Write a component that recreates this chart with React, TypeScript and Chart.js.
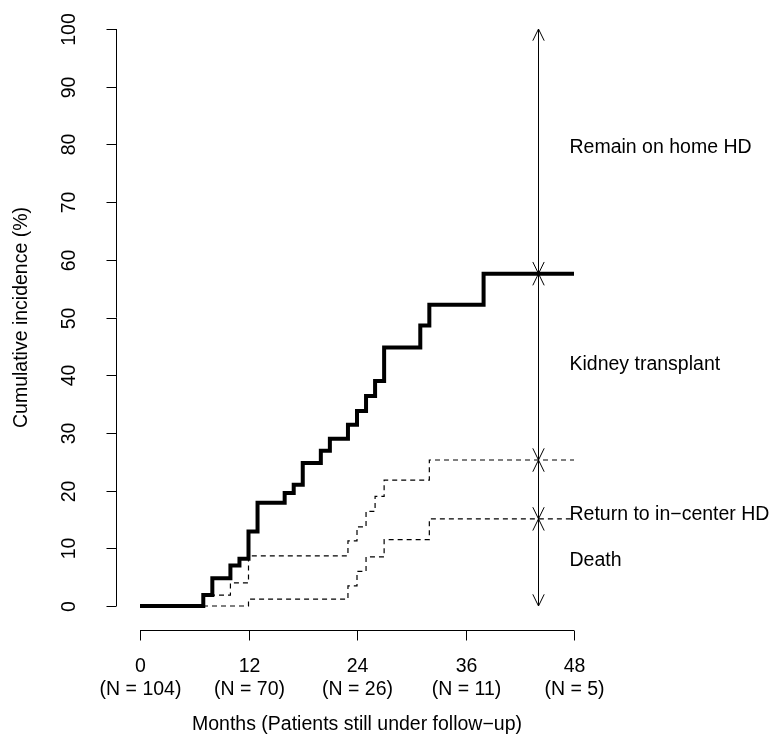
import React, { useEffect, useRef } from "react";
import { Chart, registerables } from "chart.js";

Chart.register(...registerables);

// Cumulative incidence step data (months, %)
const transplantTimes = [0, 7, 8, 10, 11, 12, 13, 16, 17, 18, 20, 21, 23, 24, 25, 26, 27, 31, 32, 38, 48];
const transplantValues = [0, 1.9, 4.8, 7.0, 8.2, 12.9, 17.9, 19.6, 21.0, 24.8, 26.9, 29.0, 31.4, 33.8, 36.4, 39.0, 44.8, 48.6, 52.2, 57.6, 57.6];
const returnTimes = [0, 7, 10, 12, 23, 24, 25, 26, 27, 32, 48];
const returnValues = [0, 1.9, 4.0, 8.7, 11.3, 13.7, 16.4, 19.0, 21.8, 25.3, 25.3];
const deathTimes = [0, 12, 23, 24, 25, 27, 32, 48];
const deathValues = [0, 1.2, 3.5, 6.0, 8.5, 11.5, 15.1, 15.1];

// Axis ticks
const monthTicks = [0, 12, 24, 36, 48];
const patientsAtRisk = [104, 70, 26, 11, 5];
const percentTicks = [0, 10, 20, 30, 40, 50, 60, 70, 80, 90, 100];

// Annotation arrows and labels
const arrowMonth = 44;
const arrowBounds = [100, 57.6, 25.3, 15.1, 0];
const outcomeLabels = ["Remain on home HD", "Kidney transplant", "Return to in\u2212center HD", "Death"];
const outcomeLabelY = [79.5, 41.8, 15.8, 7.8];
const outcomeLabelMonth = 47.5;

const xTitle = "Months (Patients still under follow\u2212up)";
const yTitle = "Cumulative incidence (%)";

const FONT = '19.5px "Liberation Sans", Arial, Helvetica, sans-serif';

function toPoints(ts: number[], vs: number[]) {
  return ts.map((t, i) => ({ x: t, y: vs[i] }));
}

function drawArrowHead(ctx: CanvasRenderingContext2D, x: number, y: number, dir: number) {
  // dir = -1 pointing up, +1 pointing down; tip at (x,y)
  const len = 13;
  const ang = (26 * Math.PI) / 180;
  const dx = len * Math.sin(ang);
  const dy = len * Math.cos(ang);
  ctx.beginPath();
  ctx.moveTo(x - dx, y - dir * dy);
  ctx.lineTo(x, y);
  ctx.lineTo(x + dx, y - dir * dy);
  ctx.stroke();
}

const decorPlugin = {
  id: "decor",
  afterDatasetsDraw(chart: any) {
    const ctx: CanvasRenderingContext2D = chart.ctx;
    const xs = chart.scales.x;
    const ys = chart.scales.y;
    ctx.save();
    ctx.strokeStyle = "#000";
    ctx.fillStyle = "#000";
    ctx.lineWidth = 1;
    ctx.setLineDash([]);
    ctx.font = FONT;

    // X axis
    const axisY = ys.getPixelForValue(0) + 24.5;
    const x0 = xs.getPixelForValue(monthTicks[0]);
    const x1 = xs.getPixelForValue(monthTicks[monthTicks.length - 1]);
    ctx.beginPath();
    ctx.moveTo(x0, axisY);
    ctx.lineTo(x1, axisY);
    ctx.stroke();
    ctx.textAlign = "center";
    ctx.textBaseline = "middle";
    monthTicks.forEach((m, i) => {
      const px = Math.round(xs.getPixelForValue(m)) + 0.5;
      ctx.beginPath();
      ctx.moveTo(px, axisY);
      ctx.lineTo(px, axisY + 10);
      ctx.stroke();
      ctx.fillText(String(m), px, axisY + 36);
      ctx.fillText("(N = " + patientsAtRisk[i] + ")", px, axisY + 59);
    });
    ctx.fillText(xTitle, (x0 + x1) / 2, axisY + 94);

    // Y axis
    const axisX = x0 - 23.5;
    const yTop = ys.getPixelForValue(percentTicks[percentTicks.length - 1]);
    const yBot = ys.getPixelForValue(percentTicks[0]);
    ctx.beginPath();
    ctx.moveTo(axisX, yBot);
    ctx.lineTo(axisX, yTop);
    ctx.stroke();
    percentTicks.forEach((v) => {
      const py = Math.round(ys.getPixelForValue(v)) + 0.5;
      ctx.beginPath();
      ctx.moveTo(axisX, py);
      ctx.lineTo(axisX - 10, py);
      ctx.stroke();
      ctx.save();
      ctx.translate(axisX - 47, py);
      ctx.rotate(-Math.PI / 2);
      ctx.fillText(String(v), 0, 0);
      ctx.restore();
    });
    ctx.save();
    ctx.translate(22, (yTop + yBot) / 2);
    ctx.rotate(-Math.PI / 2);
    ctx.fillText(yTitle, 0, 0);
    ctx.restore();

    // Arrows
    const ax = Math.round(xs.getPixelForValue(arrowMonth)) + 0.5;
    for (let i = 0; i < arrowBounds.length - 1; i++) {
      const ya = ys.getPixelForValue(arrowBounds[i]);
      const yb = ys.getPixelForValue(arrowBounds[i + 1]);
      ctx.beginPath();
      ctx.moveTo(ax, ya);
      ctx.lineTo(ax, yb);
      ctx.stroke();
      drawArrowHead(ctx, ax, ya, -1);
      drawArrowHead(ctx, ax, yb, 1);
    }

    // Outcome labels
    ctx.textAlign = "left";
    ctx.textBaseline = "middle";
    const lx = xs.getPixelForValue(outcomeLabelMonth);
    outcomeLabels.forEach((t, i) => {
      ctx.fillText(t, lx, ys.getPixelForValue(outcomeLabelY[i]));
    });
    ctx.restore();
  },
};

export default function App() {
  const ref = useRef<HTMLCanvasElement | null>(null);
  useEffect(() => {
    if (!ref.current) return;
    const chart = new Chart(ref.current, {
      type: "line",
      data: {
        datasets: [
          {
            label: "Death",
            data: toPoints(deathTimes, deathValues),
            stepped: "before",
            borderColor: "#000",
            borderWidth: 1.2,
            borderDash: [5, 4],
            pointRadius: 0,
            fill: false,
            clip: false,
          } as any,
          {
            label: "Death + return to in-center HD",
            data: toPoints(returnTimes, returnValues),
            stepped: "before",
            borderColor: "#000",
            borderWidth: 1.2,
            borderDash: [5, 4],
            pointRadius: 0,
            fill: false,
            clip: false,
          } as any,
          {
            label: "Kidney transplant (cumulative)",
            data: toPoints(transplantTimes, transplantValues),
            stepped: "before",
            borderColor: "#000",
            borderWidth: 4,
            borderCapStyle: "butt",
            borderJoinStyle: "miter",
            pointRadius: 0,
            fill: false,
            clip: false,
          } as any,
        ],
      },
      options: {
        animation: false,
        responsive: false,
        devicePixelRatio: 1,
        layout: { padding: { left: 140, right: 195, top: 29, bottom: 128 } },
        scales: {
          x: { type: "linear", min: 0, max: 48, display: false },
          y: { type: "linear", min: 0, max: 100, display: false },
        },
        plugins: {
          legend: { display: false },
          tooltip: { enabled: false },
        },
      },
      plugins: [decorPlugin],
    });
    return () => chart.destroy();
  }, []);
  return (
    <div style={{ position: "absolute", left: 0, top: 0, width: 769, height: 734, background: "#fff" }}>
      <canvas ref={ref} width={769} height={734} />
    </div>
  );
}
